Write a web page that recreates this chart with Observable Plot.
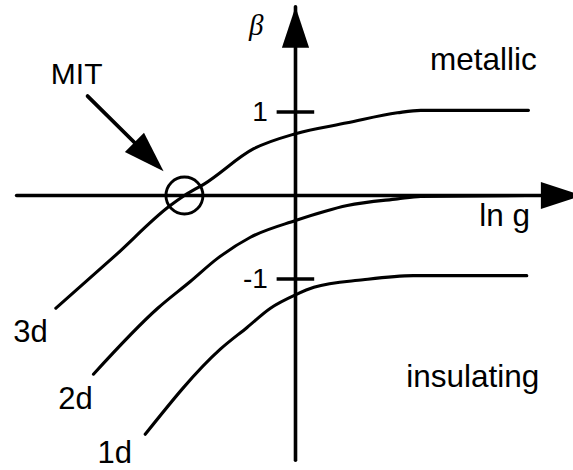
<!DOCTYPE html>
<html>
<head>
<meta charset="utf-8">
<script src="https://cdn.jsdelivr.net/npm/d3@7"></script>
<script src="https://cdn.jsdelivr.net/npm/@observablehq/plot@0.6"></script>
<style>
  html, body { margin: 0; padding: 0; background: #fff; }
</style>
</head>
<body>
<div id="chart"></div>
<script>
// Scaling function beta(ln g) for the three dimensionalities (sketch values).
const dims = ["3d", "2d", "1d"];

const lnG3d  = [-2.87, -2.16, -1.50, -1.33, -1.09, -0.50, 0.00, 0.62, 1.22, 1.50, 2.79];
const beta3d = [-1.35, -0.72, -0.12, 0.00, 0.14, 0.56, 0.74, 0.87, 0.99, 1.02, 1.02];

const lnG2d  = [-2.42, -1.65, -1.26, -0.93, -0.54, 0.00, 0.62, 1.22, 1.50, 2.79];
const beta2d = [-2.14, -1.35, -1.03, -0.75, -0.50, -0.30, -0.12, -0.04, -0.01, 0.00];

const lnG1d  = [-1.80, -0.90, -0.58, -0.30, 0.00, 0.22, 0.81, 1.41, 2.77];
const beta1d = [-2.86, -1.84, -1.58, -1.35, -1.19, -1.10, -1.01, -0.96, -0.96];

// Axis extents, ticks and the metal-insulator transition point
const xAxisEnds = [-3.34, 3.43];   // ln g axis: left end, arrow tip
const yAxisEnds = [-3.17, 2.26];   // beta axis: bottom end, arrow tip
const tickValues = [1, -1];
const tickLabels = ["1", "-1"];
const mit = {lnG: -1.33, beta: 0};
const mitArrow = {from: [-2.49, 1.19], to: [-1.58, 0.29]};

// Labels: text, position (ln g, beta)
const regionLabels = [
  {text: "metallic",   lnG: 2.89, beta: 1.50},
  {text: "insulating", lnG: 2.92, beta: -2.29},
  {text: "ln g",       lnG: 2.81, beta: -0.37}
];
const dimLabels = [
  {text: "3d", lnG: -3.38, beta: -1.75},
  {text: "2d", lnG: -2.84, beta: -2.56},
  {text: "1d", lnG: -2.37, beta: -3.20}
];

const PX = 83.5; // pixels per unit on both axes
const W = 573, H = 470;

const curves = [
  ...lnG3d.map((x, i) => ({dim: dims[0], lnG: x, beta: beta3d[i]})),
  ...lnG2d.map((x, i) => ({dim: dims[1], lnG: x, beta: beta2d[i]})),
  ...lnG1d.map((x, i) => ({dim: dims[2], lnG: x, beta: beta1d[i]}))
];

// Filled arrowhead with its tip at the symbol origin, pointing up
const arrowHead = {
  draw(ctx, size) {
    const r = Math.sqrt(size / Math.PI);
    const L = r * 2.05, w = r * 0.68;
    ctx.moveTo(0, 0);
    ctx.lineTo(w, L);
    ctx.lineTo(-w, L);
    ctx.closePath();
  }
};
const heading = (dx, dy) => Math.atan2(dx, dy) * 180 / Math.PI;

const heads = [
  {lnG: xAxisEnds[1], beta: 0, rot: 90},
  {lnG: 0, beta: yAxisEnds[1], rot: 0},
  {lnG: mitArrow.to[0], beta: mitArrow.to[1],
   rot: heading(mitArrow.to[0] - mitArrow.from[0], mitArrow.to[1] - mitArrow.from[1])}
];

const font = "Liberation Sans, Arial, Helvetica, sans-serif";

const chart = Plot.plot({
  width: W,
  height: H,
  margin: 0,
  style: {background: "#fff", fontFamily: font},
  x: {domain: [-295 / PX, (W - 295) / PX], axis: null},
  y: {domain: [(195 - H) / PX, 195 / PX], axis: null},
  marks: [
    // axes
    Plot.line(xAxisEnds.map(x => ({lnG: x, beta: 0})), {x: "lnG", y: "beta", stroke: "#000", strokeWidth: 3.6}),
    Plot.line(yAxisEnds.map(y => ({lnG: 0, beta: y})), {x: "lnG", y: "beta", stroke: "#000", strokeWidth: 3.6}),
    Plot.ruleY(tickValues, {x1: -0.22, x2: 0.23, stroke: "#000", strokeWidth: 3.4}),
    Plot.text(tickValues, {x: -0.33, y: d => d, text: (d, i) => tickLabels[i], textAnchor: "end",
      fontSize: 28, fill: "#000"}),
    // beta curves
    Plot.line(curves, {x: "lnG", y: "beta", z: "dim", curve: "monotone-x", stroke: "#000", strokeWidth: 3.1}),
    // transition point
    Plot.dot([mit], {x: "lnG", y: "beta", r: 18.5, stroke: "#000", strokeWidth: 2.9, fill: "none"}),
    Plot.line([mitArrow.from, [
      mitArrow.to[0] - (mitArrow.to[0] - mitArrow.from[0]) * 0.3,
      mitArrow.to[1] - (mitArrow.to[1] - mitArrow.from[1]) * 0.3
    ]], {x: d => d[0], y: d => d[1], stroke: "#000", strokeWidth: 3.8}),
    // arrowheads
    Plot.dot(heads, {x: "lnG", y: "beta", r: 20, symbol: arrowHead, rotate: "rot", fill: "#000", stroke: "none"}),
    // labels
    Plot.text(["MIT"], {x: mitArrow.from[0] - 0.44, y: 1.34, text: d => d, textAnchor: "start",
      lineAnchor: "bottom", fontSize: 30, fill: "#000"}),
    Plot.text(regionLabels, {x: "lnG", y: "beta", text: "text", textAnchor: "end",
      lineAnchor: "bottom", fontSize: 31.5, fill: "#000"}),
    Plot.text(dimLabels, {x: "lnG", y: "beta", text: "text", textAnchor: "start",
      lineAnchor: "bottom", fontSize: 31, fill: "#000"}),
    Plot.text(["β"], {x: -0.47, y: 1.92, text: d => d, textAnchor: "middle", lineAnchor: "bottom",
      fontSize: 29, fontStyle: "italic", fontFamily: "Liberation Serif, Times New Roman, serif", fill: "#000"})
  ]
});

document.getElementById("chart").appendChild(chart);
</script>
</body>
</html>
